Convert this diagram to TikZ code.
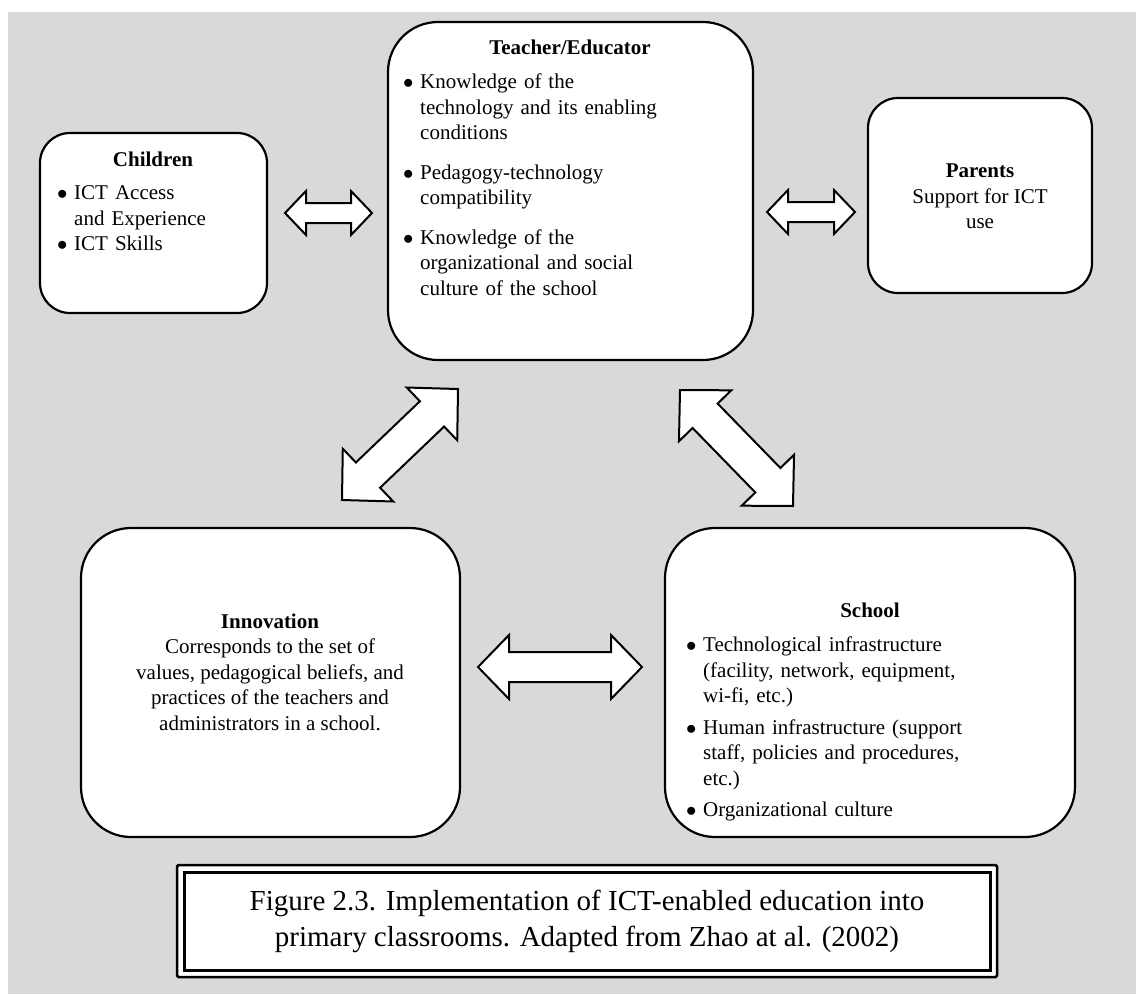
\documentclass[tikz,border=0pt]{standalone}
\usepackage{fontspec}
\setmainfont{Liberation Serif}
\usetikzlibrary{calc}
\definecolor{panelgray}{HTML}{D9D9D9}
% bullet item with hanging indent
\newcommand\bitem{\par\hangindent=17pt\hangafter=1\noindent\hbox to 17pt{$\bullet$\hfil}}
\newcommand\gapitem[1]{\par\vspace{#1}\bitem}
% double-headed block arrow between two tips:
% #1,#2 tips, #3 shaft half width, #4 head half width, #5 head length
\newcommand\dblarrow[5]{%
  \coordinate (ba1) at ($(#1)!#5!(#2)$);
  \coordinate (ba2) at ($(#2)!#5!(#1)$);
  \draw[blockarrow] (#1) -- ($(ba1)!#4!90:(#2)$) -- ($(ba1)!#3!90:(#2)$)
    -- ($(ba2)!#3!-90:(#1)$) -- ($(ba2)!#4!-90:(#1)$) -- (#2)
    -- ($(ba2)!#4!90:(#1)$) -- ($(ba2)!#3!90:(#1)$)
    -- ($(ba1)!#3!-90:(#2)$) -- ($(ba1)!#4!-90:(#2)$) -- cycle;}
\begin{document}
\begin{tikzpicture}[x=1pt,y=-1pt,
  box/.style={draw=black, line width=2.2pt, fill=white, rounded corners=#1, inner sep=0pt},
  box/.default=30pt,
  body/.style={font=\fontsize{21}{25.5}\selectfont, inner sep=0pt},
  listtext/.style={body, anchor=north west, text width=#1},
  title/.style={font=\fontsize{21}{25.5}\selectfont\bfseries, inner sep=0pt},
  blockarrow/.style={draw=black, line width=2pt, fill=white, line join=miter},
]
\useasboundingbox (0,0) rectangle (1136,994);
\fill[panelgray] (8,12) rectangle (1136,994);

% boxes
\node[box=30pt, minimum width=227pt, minimum height=180pt] (children) at (153.5,223) {};
\node[box=50pt, minimum width=365pt, minimum height=338pt] (teacher) at (570.5,191) {};
\node[box=30pt, minimum width=224pt, minimum height=195pt] (parents) at (980,195.5) {};
\node[box=50pt, minimum width=379pt, minimum height=309pt] (innovation) at (270.5,682.5) {};
\node[box=50pt, minimum width=410pt, minimum height=309pt] (school) at (870,682.5) {};

% texts
\node[title, anchor=base] (childrentitle) at (153,166) {Children};
\node[listtext=200pt] (childrenlist) at (57,174)
  {\raggedright\bitem ICT Access\newline and Experience\bitem ICT Skills\par};

\node[title, anchor=base] (teachertitle) at (570,54) {Teacher/Educator};
\node[listtext=330pt] (teacherlist) at (403,63)
  {\raggedright\bitem Knowledge of the\newline technology and its enabling\newline conditions
   \gapitem{14pt}Pedagogy-technology\newline compatibility
   \gapitem{14pt}Knowledge of the\newline organizational and social\newline culture of the school\par};

\node[body, align=center, anchor=north] (parentstext) at (980,164)
  {\textbf{Parents}\\Support for ICT\\use};

\node[body, align=center] (innovationtext) at (270,672)
  {\textbf{Innovation}\\Corresponds to the set of\\values, pedagogical beliefs, and\\practices of the teachers and\\administrators in a school.};

\node[title, anchor=base] (schooltitle) at (870,617) {School};
\node[listtext=380pt] (schoollist) at (686,626)
  {\raggedright\bitem Technological infrastructure\newline (facility, network, equipment,\newline wi-fi, etc.)
   \gapitem{6pt}Human infrastructure (support\newline staff, policies and procedures,\newline etc.)
   \gapitem{6pt}Organizational culture\par};

% caption frame
\node[draw=black, line width=2.5pt, fill=white, rounded corners=1.5pt,
      minimum width=820pt, minimum height=112pt, inner sep=0pt] (captionouter) at (587,921) {};
\node[draw=black, line width=3pt, minimum width=806pt, minimum height=98pt, inner sep=0pt]
  (captioninner) at (captionouter.center) {};
\node[font=\fontsize{29}{36}\selectfont, align=center, inner sep=0pt] (caption) at (captionouter.center)
  {Figure 2.3. Implementation of ICT-enabled education into\\primary classrooms. Adapted from Zhao at al. (2002)};

% arrow tips
\coordinate (a1l) at (285,213);  \coordinate (a1r) at (372,213);
\coordinate (a2l) at (767,212);  \coordinate (a2r) at (855,212);
\coordinate (a3b) at (342,500);  \coordinate (a3t) at (458,389);
\coordinate (a4t) at (680,390);  \coordinate (a4b) at (793,506);
\coordinate (a5l) at (478,667);  \coordinate (a5r) at (642,667);

\dblarrow{a1l}{a1r}{10pt}{22pt}{21pt}
\dblarrow{a2l}{a2r}{10pt}{22pt}{21pt}
\dblarrow{a3b}{a3t}{17.5pt}{36.5pt}{36pt}
\dblarrow{a4t}{a4b}{17.5pt}{36.5pt}{36pt}
\dblarrow{a5l}{a5r}{15pt}{32pt}{31pt}
\end{tikzpicture}
\end{document}
